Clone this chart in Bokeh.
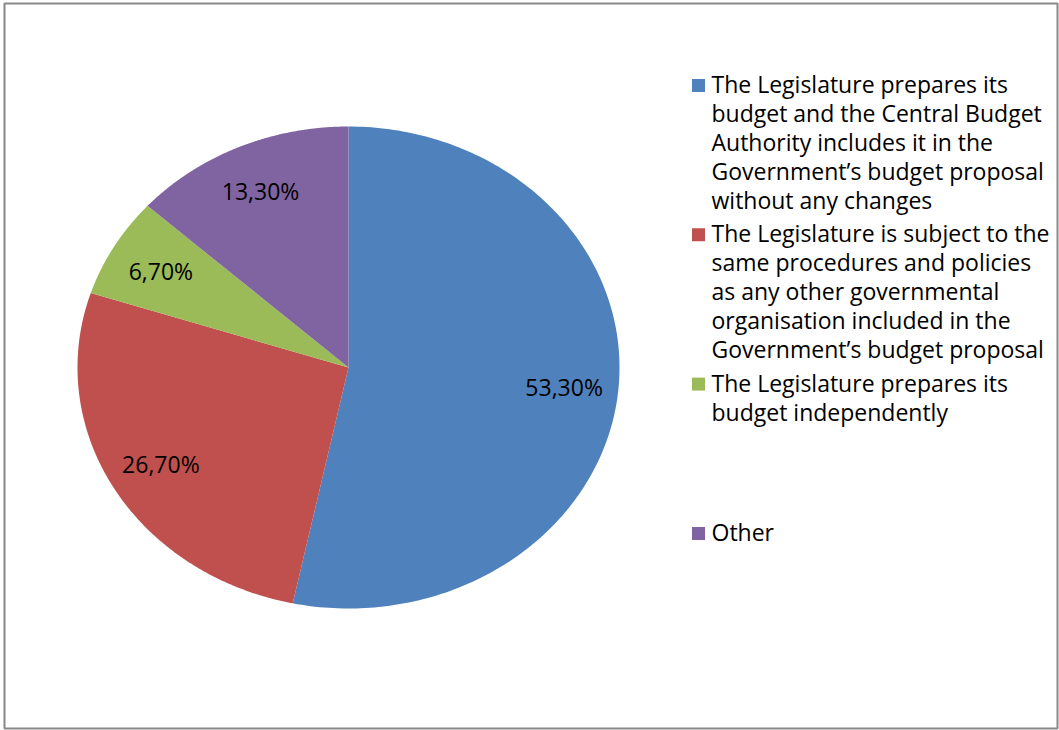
import numpy as np
from bokeh.plotting import figure
from bokeh.models import ColumnDataSource, Range1d
from bokeh.core.properties import value
from bokeh.embed import file_html
from bokeh.resources import INLINE

# ---- data ----
categories = [
    "The Legislature prepares its\nbudget and the Central Budget\nAuthority includes it in the\nGovernment\u2019s budget proposal\nwithout any changes",
    "The Legislature is subject to the\nsame procedures and policies\nas any other governmental\norganisation included in the\nGovernment\u2019s budget proposal",
    "The Legislature prepares its\nbudget independently",
    "Other",
]
shares = [53.3, 26.7, 6.7, 13.3]
share_labels = ["53,30%", "26,70%", "6,70%", "13,30%"]
colors = ["#4F81BD", "#C0504D", "#9BBB59", "#8064A2"]

# ---- layout constants (page pixels) ----
W, H = 1059, 730
CX, CY = 348, 367
RX, RY = 271, 241
FONT = "Open Sans"
FS = "23px"

p = figure(width=W, height=H, output_backend="svg", toolbar_location=None,
           x_range=Range1d(4, 1057), y_range=Range1d(728, 3),
           min_border_left=4, min_border_top=3, min_border_right=2, min_border_bottom=2)
p.axis.visible = False
p.xgrid.visible = False
p.ygrid.visible = False
p.outline_line_color = "#888888"
p.outline_line_width = 2
p.background_fill_color = "white"
p.border_fill_color = "white"

# ---- pie slices (clockwise from 12 o'clock) ----
total = sum(shares)
xs, ys, mids = [], [], []
start = np.pi / 2
for s in shares:
    sweep = 2 * np.pi * s / total
    t = np.linspace(start, start - sweep, 200)
    xs.append([CX] + list(CX + RX * np.cos(t)))
    ys.append([CY] + list(CY - RY * np.sin(t)))
    mids.append(start - sweep / 2)
    start -= sweep
p.patches(xs, ys, fill_color=colors, line_color=None)

mids = np.array(mids)
lab_src = ColumnDataSource(dict(
    x=CX + 0.80 * RX * np.cos(mids),
    y=CY - 0.80 * RY * np.sin(mids),
    t=share_labels))
p.text(x="x", y="y", text="t", source=lab_src, text_align="center",
       text_baseline="middle", text_font=value(FONT), text_font_size=FS,
       text_color="#000000")

# ---- legend ----
LEG_X, FIRST_BASE, SLOT, LH = 711, 83.5, 149.3, 28.9
lx, ly, lt = [], [], []
sq_y = []
for i, c in enumerate(categories):
    base = FIRST_BASE + i * SLOT
    sq_y.append(base + 1.5)
    for j, line in enumerate(c.split("\n")):
        lx.append(LEG_X)
        ly.append(base + j * LH)
        lt.append(line)
p.rect(x=[698] * len(categories), y=sq_y, width=13, height=13,
       width_units="screen", height_units="screen", fill_color=colors, line_color=None)
p.text(x=lx, y=ly, text=lt, text_align="left", text_baseline="alphabetic",
       text_font=value(FONT), text_font_size=FS, text_color="#000000")

open("out.html", "w").write(file_html(p, INLINE))
